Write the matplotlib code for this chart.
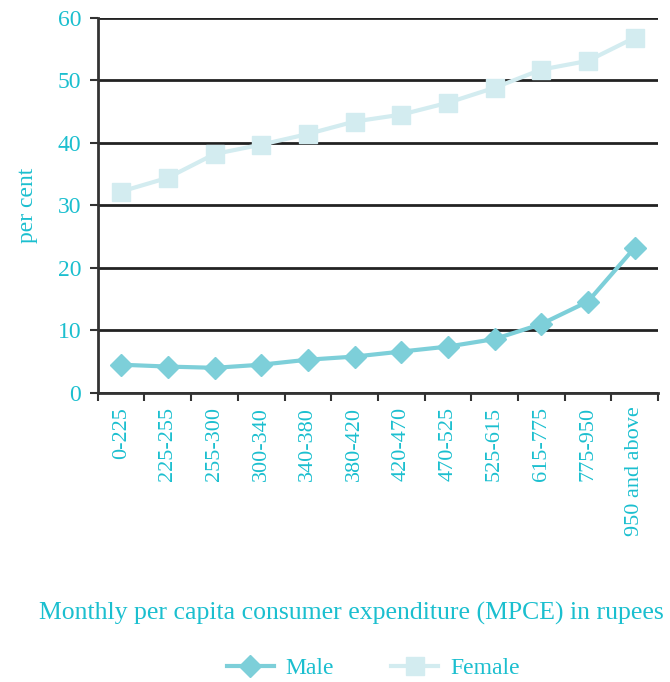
import numpy as np
import matplotlib.pyplot as plt
from matplotlib.ticker import FixedLocator, NullFormatter

categories = ["0-225", "225-255", "255-300", "300-340", "340-380", "380-420",
              "420-470", "470-525", "525-615", "615-775", "775-950", "950 and above"]
male = [4.5, 4.2, 4.0, 4.5, 5.3, 5.8, 6.6, 7.4, 8.6, 11.0, 14.6, 23.2]
female = [32.2, 34.4, 38.2, 39.7, 41.4, 43.4, 44.5, 46.4, 48.8, 51.7, 53.1, 56.8]

txt = "#1bbfcf"
plt.rcParams['font.family'] = ['Liberation Serif', 'DejaVu Serif']

fig = plt.figure(figsize=(6.7, 6.82), dpi=100)
ax = fig.add_axes([0.146, 0.424, 0.836, 0.55])

x = np.arange(len(categories))
ax.plot(x, male, color="#7dcfd9", lw=3, marker="D", ms=11, label="Male", zorder=3)
ax.plot(x, female, color="#d3ecf0", lw=3, marker="s", ms=13, label="Female", zorder=3)

ax.set_xlim(-0.5, len(categories) - 0.5)
ax.set_ylim(0, 60)
ax.set_yticks(range(0, 61, 10))
ax.yaxis.grid(True, color="#222222", lw=2)
ax.set_axisbelow(True)

ax.set_xticks(x)
ax.set_xticklabels(categories, rotation=90, color=txt, fontsize=16)
ax.tick_params(axis="x", which="major", length=0, pad=10)
ax.xaxis.set_minor_locator(FixedLocator(np.arange(-0.5, len(categories), 1)))
ax.xaxis.set_minor_formatter(NullFormatter())
ax.tick_params(axis="x", which="minor", length=6, width=1.5, color="#333333")
ax.tick_params(axis="y", length=6, width=1.5, color="#333333", labelcolor=txt,
               labelsize=17, pad=6)

for s in ["top", "right"]:
    ax.spines[s].set_visible(False)
ax.spines["left"].set_linewidth(2)
ax.spines["left"].set_color("#333333")
ax.spines["bottom"].set_linewidth(2)
ax.spines["bottom"].set_color("#333333")

ax.set_ylabel("per cent", color=txt, fontsize=17, labelpad=14)
fig.text(0.525, 0.1, "Monthly per capita consumer expenditure (MPCE) in rupees",
         color=txt, fontsize=18.5, ha="center", va="center")

leg = fig.legend(loc="center", bbox_to_anchor=(0.557, 0.02), ncol=2, frameon=False,
                 fontsize=17, handlelength=2.0, columnspacing=2.4, handletextpad=0.5)
for t in leg.get_texts():
    t.set_color(txt)

fig.savefig("out.png", dpi=100)
